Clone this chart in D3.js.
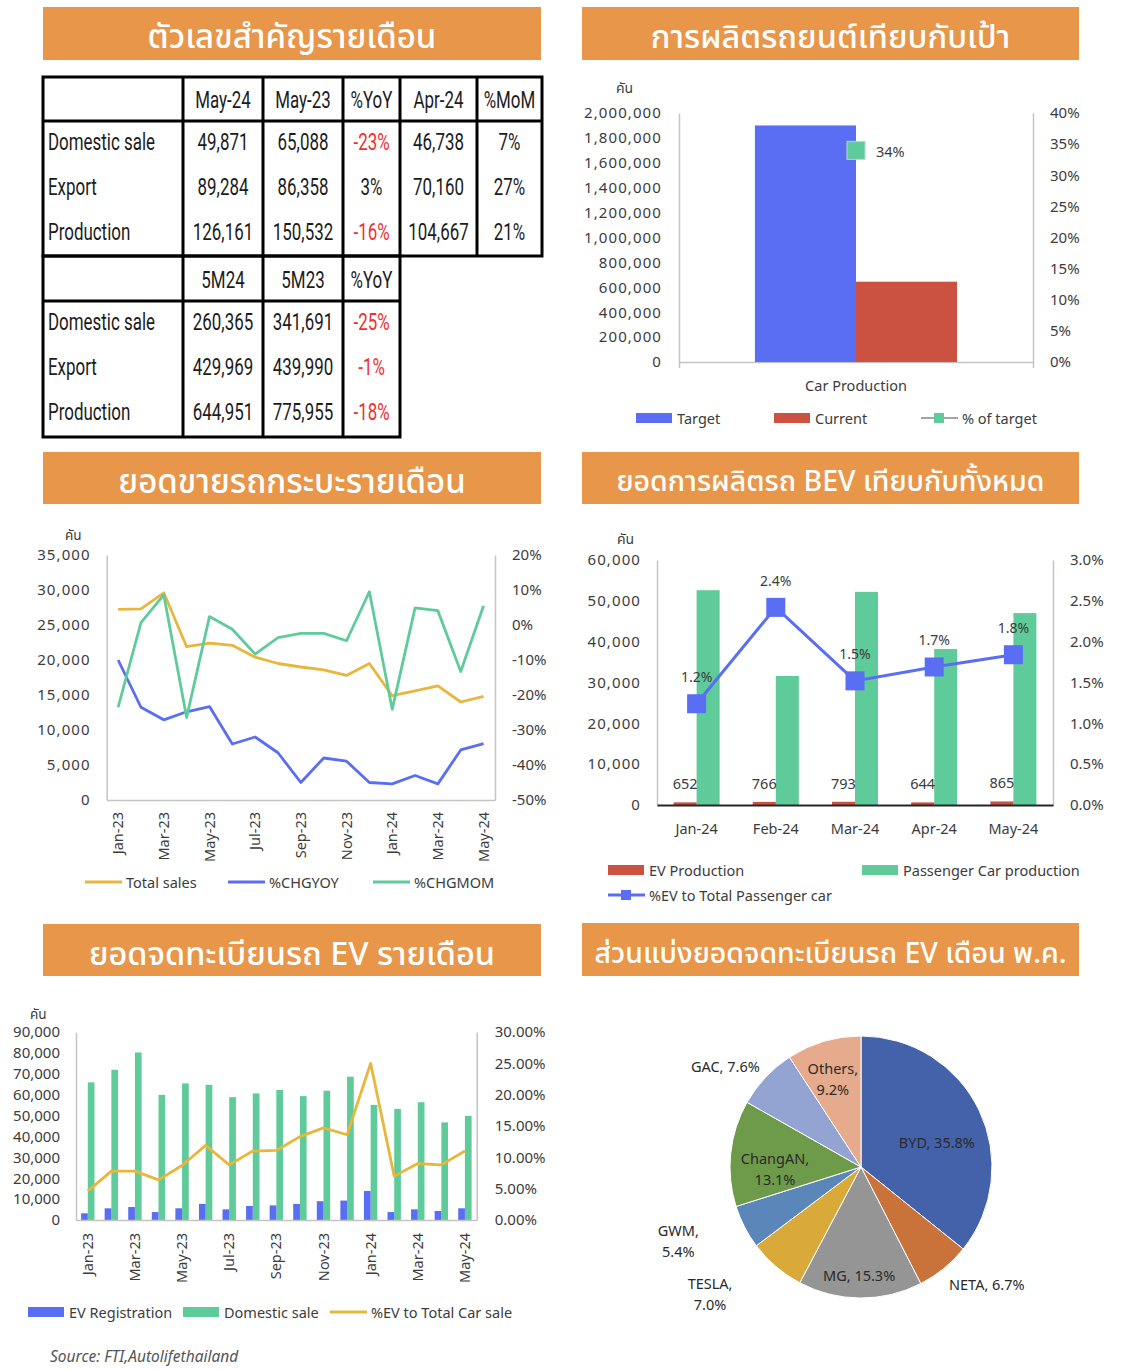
<!DOCTYPE html>
<html>
<head>
<meta charset="utf-8">
<script src="https://cdn.jsdelivr.net/npm/d3@7"></script>
<style>
  body { margin: 0; background: #fff; }
  svg text { font-family: "Noto Sans", "Noto Sans Thai", sans-serif; }
</style>
</head>
<body>
<svg id="page" width="1126" height="1370"></svg>
<script>
// ---------- data ----------

// monthly key figures table
const tableCols = ['May-24', 'May-23', '%YoY', 'Apr-24', '%MoM'];
const tableRows = ['Domestic sale', 'Export', 'Production'];
const may24 = [49871, 89284, 126161];
const may23 = [65088, 86358, 150532];
const yoyMonth = ['-23%', '3%', '-16%'];
const apr24 = [46738, 70160, 104667];
const momMonth = ['7%', '27%', '21%'];
const ytdCols = ['5M24', '5M23', '%YoY'];
const ytd24 = [260365, 429969, 644951];
const ytd23 = [341691, 439990, 775955];
const yoyYtd = ['-25%', '-1%', '-18%'];

// production vs target
const prodCategory = ['Car Production'];
const prodSeries = ['Target', 'Current'];
const prodValues = [1900000, 644951];
const prodPctOfTarget = 0.34;

// pickup monthly sales
const months = ['Jan-23', 'Feb-23', 'Mar-23', 'Apr-23', 'May-23', 'Jun-23', 'Jul-23', 'Aug-23',
  'Sep-23', 'Oct-23', 'Nov-23', 'Dec-23', 'Jan-24', 'Feb-24', 'Mar-24', 'Apr-24', 'May-24'];
const pickupSales = [27240, 27300, 29600, 21900, 22400, 22100, 20400, 19500,
  19000, 18600, 17800, 19500, 14900, 15600, 16300, 14000, 14800];
const pickupYoY = [-0.100, -0.235, -0.271, -0.248, -0.233, -0.340, -0.320, -0.365,
  -0.450, -0.380, -0.389, -0.450, -0.454, -0.430, -0.454, -0.357, -0.339];
const pickupMoM = [-0.235, 0.007, 0.086, -0.264, 0.024, -0.012, -0.083, -0.036,
  -0.024, -0.024, -0.045, 0.095, -0.241, 0.049, 0.041, -0.133, 0.055];

// BEV production vs all passenger cars
const bevMonths = ['Jan-24', 'Feb-24', 'Mar-24', 'Apr-24', 'May-24'];
const evProduction = [652, 766, 793, 644, 865];
const paxProduction = [52600, 31600, 52200, 38200, 47000];
const evShare = [0.0124, 0.0242, 0.0152, 0.0169, 0.0184];

// EV registrations
const evRegistration = [3200, 5600, 6200, 3800, 5600, 7700, 5100, 6700,
  7000, 7700, 9000, 9300, 13900, 3800, 5100, 4300, 5600];
const domesticSale = [65900, 71900, 80200, 59900, 65400, 64700, 58800, 60600,
  62300, 59300, 61900, 68600, 55100, 53200, 56400, 46738, 49871];
const evPctTotal = [0.046, 0.078, 0.078, 0.064, 0.087, 0.119, 0.088, 0.110,
  0.111, 0.133, 0.147, 0.136, 0.250, 0.070, 0.090, 0.088, 0.110];

// EV registration share, May
const brands = ['BYD', 'NETA', 'MG', 'TESLA', 'GWM', 'ChangAN', 'GAC', 'Others'];
const brandShare = [35.8, 6.7, 15.3, 7.0, 5.4, 13.1, 7.6, 9.2];

// ---------- styles ----------
const C = {
  orange: '#E8964A', blue: '#5A6EF4', red: '#CB5240', green: '#5FCB9B',
  gold: '#E8B63C', axis: '#c4c4c4', text: '#3c3c3c'
};
const pieColors = ['#4462A9', '#C9733A', '#959595', '#D9AA3A', '#5B86B9', '#6E9B49', '#93A4D2', '#E6AA8C'];

const svg = d3.select('#page');
svg.append('rect').attr('width', 1126).attr('height', 1370).attr('fill', '#fff');

// ---------- helpers ----------
function banner(x, y, w, h, title, size) {
  svg.append('rect').attr('x', x).attr('y', y).attr('width', w).attr('height', h).attr('fill', C.orange);
  svg.append('text').attr('x', x + w / 2).attr('y', y + h / 2 + 2)
    .attr('text-anchor', 'middle').attr('dominant-baseline', 'central')
    .attr('fill', '#fff').style('font-size', size + 'px').style('font-weight', 500).text(title);
}

function styleAxis(g, size, spacing) {
  g.select('.domain').attr('stroke', C.axis).attr('stroke-width', 1.5);
  g.selectAll('.tick line').attr('stroke', C.axis);
  g.selectAll('text').attr('fill', C.text).style('font-size', (size || 15) + 'px')
    .style('font-family', '"Noto Sans", sans-serif')
    .style('letter-spacing', spacing ? spacing + 'px' : null);
}

function label(x, y, str, opts) {
  opts = opts || {};
  return svg.append('text').attr('x', x).attr('y', y)
    .attr('text-anchor', opts.anchor || 'start').attr('dominant-baseline', 'central')
    .attr('fill', opts.fill || C.text).style('font-size', (opts.size || 14) + 'px')
    .style('font-style', opts.italic ? 'italic' : null)
    .text(str);
}

function legendRect(x, y, color, str) {
  svg.append('rect').attr('x', x).attr('y', y - 5).attr('width', 36).attr('height', 10).attr('fill', color);
  label(x + 41, y, str, { size: 14.5 });
}

function legendLine(x, y, color, str, marker) {
  svg.append('line').attr('x1', x).attr('x2', x + 37).attr('y1', y).attr('y2', y)
    .attr('stroke', color).attr('stroke-width', marker === 'gray' ? 2 : 3);
  if (marker) {
    svg.append('rect').attr('x', x + 13).attr('y', y - 5).attr('width', 10).attr('height', 10)
      .attr('fill', marker === 'gray' ? C.green : color);
  }
  label(x + 41, y, str, { size: 14.5 });
}

const pctFmt = d => Math.round(d * 100) + '%';

// ---------- banners ----------
banner(43, 7, 498, 53, 'ตัวเลขสำคัญรายเดือน', 33);
banner(582, 7, 497, 53, 'การผลิตรถยนต์เทียบกับเป้า', 32.5);
banner(43, 452, 498, 52, 'ยอดขายรถกระบะรายเดือน', 33);
banner(582, 452, 497, 52, 'ยอดการผลิตรถ BEV เทียบกับทั้งหมด', 28.5);
banner(43, 924, 498, 52, 'ยอดจดทะเบียนรถ EV รายเดือน', 32.5);
banner(582, 923, 497, 53, 'ส่วนแบ่งยอดจดทะเบียนรถ EV เดือน พ.ค.', 28.5);

// ---------- table ----------
const tbl = svg.append('g');
const colX = [43, 183, 263, 343, 400, 477, 542];
const comma = d3.format(',');

function cell(x, y, str, anchor) {
  const red = /^-/.test(str);
  tbl.append('text')
    .attr('transform', `translate(${x},${y}) scale(0.72,1)`)
    .attr('text-anchor', anchor || 'middle').attr('dominant-baseline', 'central')
    .attr('fill', red ? '#EE3030' : '#1c1c1c')
    .style('font-family', 'Roboto, "Liberation Sans", sans-serif')
    .style('font-size', '23.5px')
    .text(str);
}

function tableFrame(x0, x1, cols, yTop, yHead, yBot) {
  tbl.append('rect').attr('x', x0).attr('y', yTop).attr('width', x1 - x0).attr('height', yBot - yTop)
    .attr('fill', 'none').attr('stroke', '#000').attr('stroke-width', 3);
  tbl.append('line').attr('x1', x0).attr('x2', x1).attr('y1', yHead).attr('y2', yHead)
    .attr('stroke', '#000').attr('stroke-width', 3);
  cols.forEach(cx => tbl.append('line').attr('x1', cx).attr('x2', cx).attr('y1', yTop).attr('y2', yBot)
    .attr('stroke', '#000').attr('stroke-width', 3));
}

tableFrame(43, 542, colX.slice(1, 6), 77, 121, 256);
tableFrame(43, 400, colX.slice(1, 4), 256, 301, 437);

const mid = i => (colX[i] + colX[i + 1]) / 2;
tableCols.forEach((c, i) => cell(mid(i + 1), 100, c));
const monthlyCells = [may24.map(comma), may23.map(comma), yoyMonth, apr24.map(comma), momMonth];
tableRows.forEach((r, j) => {
  const y = 142 + j * 44.8;
  cell(48, y, r, 'start');
  monthlyCells.forEach((col, i) => cell(mid(i + 1), y, col[j]));
});
ytdCols.forEach((c, i) => cell(mid(i + 1), 280, c));
const ytdCells = [ytd24.map(comma), ytd23.map(comma), yoyYtd];
tableRows.forEach((r, j) => {
  const y = 322 + j * 44.8;
  cell(48, y, r, 'start');
  ytdCells.forEach((col, i) => cell(mid(i + 1), y, col[j]));
});

// ---------- production vs target ----------
(function () {
  const x = d3.scaleBand().domain(prodCategory).range([679, 1033]).paddingInner(0.273).paddingOuter(0.273);
  const xs = d3.scaleBand().domain(prodSeries).range([0, x.bandwidth()]);
  const yL = d3.scaleLinear().domain([0, 2000000]).range([362, 113]);
  const yR = d3.scaleLinear().domain([0, 0.4]).range([362, 113]);

  const gl = svg.append('g').attr('transform', 'translate(679,0)')
    .call(d3.axisLeft(yL).tickValues(d3.range(0, 11).map(i => i * 200000)).tickFormat(comma)
      .tickSize(0).tickPadding(17));
  styleAxis(gl, 15, 1.1);
  const gr = svg.append('g').attr('transform', 'translate(1033,0)')
    .call(d3.axisRight(yR).tickValues(d3.range(0, 9).map(i => i * 0.05)).tickFormat(pctFmt)
      .tickSize(0).tickPadding(17));
  styleAxis(gr);
  const gb = svg.append('g').attr('transform', 'translate(0,362)')
    .call(d3.axisBottom(x).tickSizeInner(0).tickSizeOuter(6).tickPadding(19));
  styleAxis(gb, 14.5);

  svg.append('g').selectAll('rect').data(prodSeries).join('rect')
    .attr('x', d => x(prodCategory[0]) + xs(d))
    .attr('y', (d, i) => yL(prodValues[i]))
    .attr('width', xs.bandwidth())
    .attr('height', (d, i) => yL(0) - yL(prodValues[i]))
    .attr('fill', (d, i) => [C.blue, C.red][i]);

  const cx = x(prodCategory[0]) + x.bandwidth() / 2;
  svg.append('rect').attr('x', cx - 9).attr('y', yR(prodPctOfTarget) - 9).attr('width', 18).attr('height', 18)
    .attr('fill', C.green).attr('stroke', '#b8d8c8').attr('stroke-width', 1);
  label(cx + 20, yR(prodPctOfTarget) + 1, pctFmt(prodPctOfTarget), { size: 14.5 });
  label(616, 87, 'คัน', { size: 14 });

  legendRect(636, 418, C.blue, 'Target');
  legendRect(774, 418, C.red, 'Current');
  legendLine(921, 418, '#a5a5a5', '% of target', 'gray');
})();

// ---------- pickup sales ----------
(function () {
  const x = d3.scaleBand().domain(months).range([106.7, 495]);
  const cx = d => x(d) + x.bandwidth() / 2;
  const yL = d3.scaleLinear().domain([0, 35000]).range([800, 555]);
  const yR = d3.scaleLinear().domain([-0.5, 0.2]).range([800, 555]);

  const gl = svg.append('g').attr('transform', 'translate(106.7,0)')
    .call(d3.axisLeft(yL).ticks(7).tickFormat(comma).tickSize(0).tickPadding(16));
  styleAxis(gl, 15, 1.1);
  const gr = svg.append('g').attr('transform', 'translate(495,0)')
    .call(d3.axisRight(yR).tickValues(d3.range(0, 8).map(i => -0.5 + i * 0.1)).tickFormat(pctFmt)
      .tickSize(0).tickPadding(17));
  styleAxis(gr);
  const gb = svg.append('g').attr('transform', 'translate(0,800)')
    .call(d3.axisBottom(x).tickValues(months.filter((d, i) => i % 2 === 0)).tickSize(0));
  styleAxis(gb, 14.5);
  gb.selectAll('text').attr('transform', 'rotate(-90)').attr('text-anchor', 'end')
    .attr('x', -12).attr('y', 0).attr('dy', '0.35em');

  const series = [[pickupSales, yL, C.gold], [pickupYoY, yR, C.blue], [pickupMoM, yR, C.green]];
  series.forEach(([vals, y, col]) => {
    svg.append('path')
      .attr('d', d3.line().x((d, i) => cx(months[i])).y(d => y(d))(vals))
      .attr('fill', 'none').attr('stroke', col).attr('stroke-width', 2.8).attr('stroke-linejoin', 'round');
  });
  label(65, 535, 'คัน', { size: 13.5 });

  legendLine(85, 882, C.gold, 'Total sales');
  legendLine(228, 882, C.blue, '%CHGYOY');
  legendLine(373, 882, C.green, '%CHGMOM');
})();

// ---------- BEV production ----------
(function () {
  const x = d3.scaleBand().domain(bevMonths).range([657, 1053]);
  const xs = d3.scaleBand().domain(['ev', 'pax']).range([0, x.bandwidth()]).paddingOuter(0.72);
  const cx = d => x(d) + x.bandwidth() / 2;
  const yL = d3.scaleLinear().domain([0, 60000]).range([805, 560]);
  const yR = d3.scaleLinear().domain([0, 0.03]).range([805, 560]);

  const gl = svg.append('g').attr('transform', 'translate(657,0)')
    .call(d3.axisLeft(yL).ticks(6).tickFormat(comma).tickSize(0).tickPadding(16));
  styleAxis(gl, 15, 1.1);
  const gr = svg.append('g').attr('transform', 'translate(1053,0)')
    .call(d3.axisRight(yR).tickValues(d3.range(0, 7).map(i => i * 0.005)).tickFormat(d3.format('.1%'))
      .tickSize(0).tickPadding(17));
  styleAxis(gr);

  svg.append('g').selectAll('rect').data(bevMonths).join('rect')
    .attr('x', d => x(d) + xs('pax')).attr('width', xs.bandwidth())
    .attr('y', (d, i) => yL(paxProduction[i])).attr('height', (d, i) => yL(0) - yL(paxProduction[i]))
    .attr('fill', C.green);
  svg.append('g').selectAll('rect').data(bevMonths).join('rect')
    .attr('x', d => x(d) + xs('ev')).attr('width', xs.bandwidth())
    .attr('y', (d, i) => yL(evProduction[i])).attr('height', (d, i) => yL(0) - yL(evProduction[i]))
    .attr('fill', C.red);

  const gb = svg.append('g').attr('transform', 'translate(0,805)')
    .call(d3.axisBottom(x).tickSize(0).tickPadding(19));
  styleAxis(gb, 14.5);
  gb.select('.domain').attr('stroke', '#262626').attr('stroke-width', 2);

  bevMonths.forEach((m, i) => {
    label(x(m) + xs('ev') + xs.bandwidth() / 2, yL(evProduction[i]) - 19, comma(evProduction[i]),
      { anchor: 'middle', size: 14.5 });
  });

  svg.append('path')
    .attr('d', d3.line().x((d, i) => cx(bevMonths[i])).y(d => yR(d))(evShare))
    .attr('fill', 'none').attr('stroke', C.blue).attr('stroke-width', 3);
  svg.append('g').selectAll('rect').data(evShare).join('rect')
    .attr('x', (d, i) => cx(bevMonths[i]) - 9.5).attr('y', d => yR(d) - 9.5)
    .attr('width', 19).attr('height', 19).attr('fill', C.blue);
  evShare.forEach((d, i) => {
    label(cx(bevMonths[i]), yR(d) - 27, d3.format('.1%')(d), { anchor: 'middle', size: 14 });
  });
  label(617, 538, 'คัน', { size: 14 });

  legendRect(608, 870, C.red, 'EV Production');
  legendRect(862, 870, C.green, 'Passenger Car production');
  legendLine(608, 895, C.blue, '%EV to Total Passenger car', true);
})();

// ---------- EV registrations ----------
(function () {
  const x = d3.scaleBand().domain(months).range([76, 476.7]);
  const xs = d3.scaleBand().domain(['ev', 'dom']).range([0, x.bandwidth()]).paddingOuter(0.76);
  const cx = d => x(d) + x.bandwidth() / 2;
  const yL = d3.scaleLinear().domain([0, 90000]).range([1220, 1032]);
  const yR = d3.scaleLinear().domain([0, 0.3]).range([1220, 1032]);

  const gl = svg.append('g').attr('transform', 'translate(76,0)')
    .call(d3.axisLeft(yL).ticks(9).tickFormat(comma).tickSize(0).tickPadding(16));
  styleAxis(gl);
  const gr = svg.append('g').attr('transform', 'translate(476.7,0)')
    .call(d3.axisRight(yR).tickValues(d3.range(0, 7).map(i => i * 0.05)).tickFormat(d3.format('.2%'))
      .tickSize(0).tickPadding(18));
  styleAxis(gr);

  svg.append('g').selectAll('rect').data(months).join('rect')
    .attr('x', d => x(d) + xs('dom')).attr('width', xs.bandwidth())
    .attr('y', (d, i) => yL(domesticSale[i])).attr('height', (d, i) => yL(0) - yL(domesticSale[i]))
    .attr('fill', C.green);
  svg.append('g').selectAll('rect').data(months).join('rect')
    .attr('x', d => x(d) + xs('ev')).attr('width', xs.bandwidth())
    .attr('y', (d, i) => yL(evRegistration[i])).attr('height', (d, i) => yL(0) - yL(evRegistration[i]))
    .attr('fill', C.blue);

  const gb = svg.append('g').attr('transform', 'translate(0,1220)')
    .call(d3.axisBottom(x).tickValues(months.filter((d, i) => i % 2 === 0)).tickSize(0));
  styleAxis(gb, 14.5);
  gb.selectAll('text').attr('transform', 'rotate(-90)').attr('text-anchor', 'end')
    .attr('x', -13).attr('y', 0).attr('dy', '0.35em');

  svg.append('path')
    .attr('d', d3.line().x((d, i) => cx(months[i])).y(d => yR(d))(evPctTotal))
    .attr('fill', 'none').attr('stroke', C.gold).attr('stroke-width', 2.8).attr('stroke-linejoin', 'round');
  label(30, 1014, 'คัน', { size: 13.5 });

  legendRect(28, 1312, C.blue, 'EV Registration');
  legendRect(183, 1312, C.green, 'Domestic sale');
  legendLine(330, 1312, C.gold, '%EV to Total Car sale');
  label(50, 1356, 'Source: FTI,Autolifethailand', { size: 15.5, italic: true, fill: '#555' });
})();

// ---------- EV share pie ----------
(function () {
  const cxp = 861, cyp = 1167, r = 131;
  // label placement: [radius, angle in degrees from 12 o'clock, two lines?]
  const labelPlace = [[80, 71.5, 0], [172, 133, 0], [108, 181, 0], [197, 230, 1],
    [197, 248, 1], [86, 269, 1], [169, 306.6, 0], [93, 342.4, 1]];
  const pie = d3.pie().sort(null).value(d => d)(brandShare);
  const arc = d3.arc().innerRadius(0).outerRadius(r);
  const g = svg.append('g').attr('transform', `translate(${cxp},${cyp})`);
  g.selectAll('path').data(pie).join('path')
    .attr('d', arc).attr('fill', (d, i) => pieColors[i]).attr('stroke', '#fff').attr('stroke-width', 1);

  brands.forEach((b, i) => {
    const [lr, la, two] = labelPlace[i];
    const a = la * Math.PI / 180;
    const lx = cxp + Math.sin(a) * lr, ly = cyp - Math.cos(a) * lr;
    const pct = brandShare[i].toFixed(1) + '%';
    if (two) {
      label(lx, ly - 10.5, b + ',', { anchor: 'middle', size: 14.5, fill: '#2a2a2a' });
      label(lx, ly + 10.5, pct, { anchor: 'middle', size: 14.5, fill: '#2a2a2a' });
    } else {
      label(lx, ly, b + ', ' + pct, { anchor: 'middle', size: 14.5, fill: '#2a2a2a' });
    }
  });
})();
</script>
</body>
</html>
